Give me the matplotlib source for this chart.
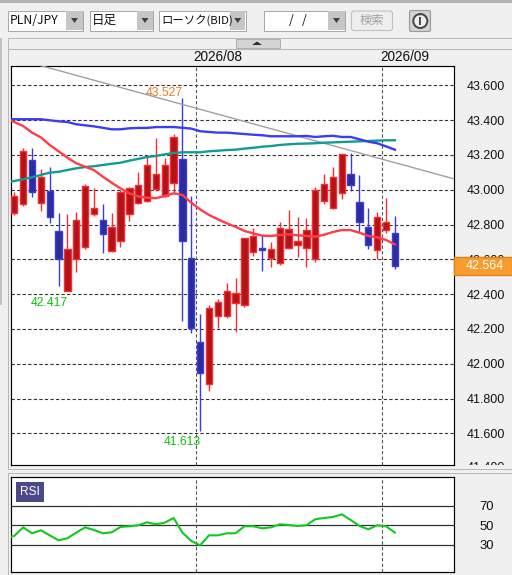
import matplotlib
matplotlib.use("Agg")
import matplotlib.pyplot as plt
from matplotlib.patches import Rectangle, FancyBboxPatch, Polygon, Circle

plt.rcParams['font.family'] = ['Liberation Sans', 'Noto Sans CJK JP', 'DejaVu Sans']

# ---------- data ----------
opens = [42.868,42.916,43.169,42.922,42.991,42.761,42.420,42.603,42.669,42.862,42.824,42.646,42.703,42.859,42.922,
         42.933,43.002,42.962,43.037,43.175,42.606,42.123,41.882,42.272,42.272,42.347,42.336,42.640,42.663,42.606,
         42.577,42.663,42.684,42.663,42.600,42.933,42.897,42.979,43.089,42.928,42.784,42.652,42.767,42.749]
highs = [42.989,43.238,43.238,43.119,43.129,42.864,42.860,42.872,43.033,43.008,42.918,42.864,42.998,43.017,43.102,
         43.199,43.295,43.182,43.318,43.527,42.964,42.286,42.337,42.370,42.464,42.493,42.722,42.778,42.740,42.699,
         42.813,42.883,42.841,42.837,43.014,43.090,43.129,43.205,43.209,43.083,42.893,42.872,42.952,42.849]
lows = [42.855,42.908,42.960,42.879,42.810,42.448,42.417,42.527,42.659,42.849,42.638,42.642,42.672,42.820,42.918,
        42.929,42.994,42.956,42.983,42.247,42.175,41.613,41.845,42.207,42.263,42.184,42.328,42.621,42.534,42.557,
        42.567,42.657,42.615,42.557,42.586,42.920,42.891,42.948,42.994,42.759,42.661,42.600,42.753,42.546]
closes = [42.964,43.224,42.985,43.071,42.841,42.600,42.657,42.824,43.020,42.893,42.744,42.784,42.985,43.008,43.025,
          43.140,43.089,43.140,43.301,42.703,42.203,41.945,42.318,42.353,42.416,42.405,42.721,42.732,42.652,42.657,
          42.778,42.772,42.703,42.767,42.997,43.031,43.071,43.203,43.025,42.813,42.680,42.841,42.813,42.564]

# moving averages begin one session before the first visible candle
ma_red = [43.406,43.389,43.366,43.328,43.301,43.257,43.221,43.184,43.152,43.132,43.113,43.075,43.040,43.008,42.979,
          42.962,42.954,42.951,42.964,42.979,42.970,42.925,42.887,42.855,42.830,42.807,42.787,42.763,42.749,42.736,
          42.734,42.740,42.744,42.738,42.734,42.730,42.741,42.757,42.768,42.768,42.753,42.734,42.726,42.711,42.686]
ma_blue = [43.406,43.405,43.405,43.405,43.405,43.399,43.393,43.389,43.376,43.370,43.364,43.356,43.347,43.347,43.353,
           43.355,43.355,43.360,43.360,43.360,43.356,43.351,43.336,43.332,43.328,43.328,43.324,43.320,43.316,43.313,
           43.307,43.307,43.307,43.307,43.309,43.303,43.307,43.310,43.303,43.303,43.290,43.276,43.267,43.249,43.230]
ma_teal = [43.041,43.050,43.060,43.071,43.085,43.098,43.103,43.113,43.123,43.130,43.135,43.142,43.149,43.155,43.167,
           43.177,43.188,43.194,43.203,43.211,43.215,43.215,43.215,43.221,43.224,43.228,43.230,43.236,43.241,43.247,
           43.251,43.257,43.261,43.264,43.265,43.267,43.270,43.272,43.274,43.276,43.278,43.280,43.282,43.284,43.284]
rsi = [37.3,39.1,47.9,41.8,44.9,39.7,34.6,36.7,42.5,47.9,45.2,41.8,42.8,48.3,49.0,50.0,53.1,51.0,52.7,57.5,42.5,33.9,
       29.5,39.7,39.7,41.8,41.8,49.0,49.0,46.9,47.9,51.0,50.3,49.3,50.0,56.2,57.5,58.5,61.3,55.5,49.3,45.9,50.0,49.0,42.5]

trend_x = [2.71, 49.63]
trend_y = [43.717, 43.063]
price_ticks = [43.6, 43.4, 43.2, 43.0, 42.8, 42.6, 42.4, 42.2, 42.0, 41.8, 41.6]
rsi_ticks = [70, 50, 30]
month_pos = [20.55, 41.6]
month_labels = ['2026/08', '2026/09']
last_price = 42.564
high_label = '43.527'
low_labels = ['42.417', '41.613']

# ---------- figure ----------
W, H = 512, 575
BG = '#f0f0f0'
fig = plt.figure(figsize=(W / 100, H / 100), dpi=100, facecolor=BG)

def axes_px(l, t, r, b, **kw):
    return fig.add_axes([l / W, 1 - b / H, (r - l) / W, (b - t) / H], **kw)

ui = axes_px(0, 0, W, H, zorder=0)
ui.set_xlim(0, W); ui.set_ylim(H, 0); ui.axis('off')

def rect(x0, y0, x1, y1, fc, ec='none', lw=0.72, z=1):
    ui.add_patch(Rectangle((x0, y0), x1 - x0, y1 - y0, fc=fc, ec=ec, lw=lw, zorder=z))

JP = ['Noto Sans CJK JP', 'DejaVu Sans']
rect(0, 0, W, 2.5, '#b4b4b4')

def combo(x0, x1, btn, label, fam=None, size=8.6, tx=None):
    rect(x0, 10.5, x1, 30.5, 'white', '#a8a8a8')
    rect(btn, 11, x1 - .5, 30, '#c6c6c6')
    c = (btn + x1) / 2
    ui.add_patch(Polygon([[c - 3.5, 18], [c + 3.5, 18], [c, 23]], fc='#404040', zorder=3))
    ui.text(x0 + 2.5 if tx is None else tx, 20.5, label, fontsize=size, va='center', ha='left' if tx is None else 'center',
            color='#111111', family=fam or JP)

combo(7.5, 83, 66, 'PLN/JPY', size=8.8)
combo(89.5, 153, 137, '日足', size=9)
combo(158.5, 245.5, 230, 'ローソク(BID)', size=8.2)
combo(263.5, 345, 328, '/   /', tx=298, size=8.8)
ui.add_patch(FancyBboxPatch((351.5, 11), 41, 19.5, boxstyle='round,pad=0,rounding_size=2.5', fc='#eeeeee', ec='#c0c0c0', lw=.8, zorder=2))
ui.text(372, 20.5, '検索', fontsize=8.8, color='#a0a0a0', ha='center', va='center', family=JP, zorder=3)
ui.add_patch(FancyBboxPatch((409.5, 10.5), 21, 21, boxstyle='round,pad=0,rounding_size=1.5', fc='#d2d2d2', ec='#999999', lw=.8, zorder=2))
ui.add_patch(Circle((420.3, 21), 7, fc='#eeeeee', ec='#444444', lw=1.4, zorder=3))
ui.text(420.3, 21, 'i', fontsize=10, fontweight='bold', color='#444444', ha='center', va='center', zorder=4)

# panel chrome
rect(7.5, 37.5, W, 468.5, BG, '#b8b8b8')
ui.plot([7.5, W], [48.5, 48.5], color='#b8b8b8', lw=.8, zorder=2)
rect(235.5, 38.5, 279.5, 48, '#d4d4d4', '#b0b0b0', z=3)
ui.add_patch(Polygon([[252, 45], [262, 45], [257, 41.5]], fc='#303030', zorder=4))
rect(0, 38, 1.5, 305, '#c4c4c4')
rect(7.5, 472.5, W, H, BG, '#b8b8b8')

# ---------- main chart ----------
PX0, PXSTEP = 14.3, 8.85
def xlim_for(l, r):
    return (l - PX0) / PXSTEP, (r - PX0) / PXSTEP
def price_at(y):
    return 43.6 - (y - 85.3) / 174

L, R, T, B = 11.3, 453.5, 65.5, 464.5
ax = axes_px(L, T, R, B, zorder=2, facecolor='white')
ax.set_xlim(*xlim_for(L, R))
ax.set_ylim(price_at(B), price_at(T))
for s in ax.spines.values():
    s.set_linewidth(.85); s.set_color('black')

idx = list(range(len(closes)))
ma_x = list(range(-1, len(closes)))
DASH = (0, (3, 2))
ax.hlines(price_ticks, *ax.get_xlim(), color='#333333', lw=.8, linestyles=DASH, zorder=1)
ax.vlines(month_pos, *ax.get_ylim(), color='#555555', lw=.8, linestyles=DASH, zorder=1)

UP_E, UP_F = '#ff2a2e', '#b01418'
DN_E, DN_F = '#3c3cdc', '#2c2c9c'
for i, o, h, l, c in zip(idx, opens, highs, lows, closes):
    up = c >= o
    ax.vlines(i, l, h, color=UP_E if up else DN_E, lw=1.0, zorder=2)
    ax.bar(i, abs(c - o), bottom=min(o, c), width=0.72, color=UP_F if up else DN_F,
           edgecolor=UP_E if up else DN_E, linewidth=1.0, zorder=3)

ax.plot(trend_x, trend_y, color='#a0a0a0', lw=1.0, zorder=4)
ax.plot(ma_x, ma_teal, color='#0f9c92', lw=1.7, zorder=5)
ax.plot(ma_x, ma_blue, color='#3c3cf0', lw=1.7, zorder=5)
ax.plot(ma_x, ma_red, color='#ff3c48', lw=1.7, zorder=5)

def note(i, p, s, col, dy):
    ax.annotate(s, xy=(i, p), xytext=(-18 * .72, dy * .72), textcoords='offset points', color=col,
                fontsize=8.8, ha='center', va='center', zorder=6)
note(19, highs[19], high_label, '#f07a20', 5)
note(6, lows[6], low_labels[0], '#10c010', -12)
note(21, lows[21], low_labels[1], '#10c010', -10.5)

ax.set_xticks([])
for m, lab in zip(month_pos, month_labels):
    ax.annotate(lab, xy=(m, 1), xycoords=ax.get_xaxis_transform(), xytext=(-2.5 * .72, 1.2),
                textcoords='offset points', ha='left', va='bottom', fontsize=9.8, color='#111111',
                annotation_clip=False)
ax.yaxis.tick_right()
ax.set_yticks(price_ticks)
ax.set_yticklabels([f'{p:.3f}' for p in price_ticks], fontsize=9, color='#111111')
ax.tick_params(axis='y', length=0, pad=9.7)

# tick below the plotted range: only its top shows above the separator
clip = Rectangle((454, 440), 58, 25, transform=ui.transData)
t = ax.text(1.0 + 13.5 / (R - L), 41.4, '41.400', transform=ax.get_yaxis_transform(), fontsize=9, color='#111111',
            va='center', ha='left', clip_on=True)
t.set_clip_path(clip)

# last price tag
box_h = 18 / 174
ax.add_patch(Rectangle((1.0, last_price - box_h / 2), (W - R) / (R - L), box_h, transform=ax.get_yaxis_transform(),
                       fc='#f99c2e', ec='#e2801a', lw=1, clip_on=False, zorder=8))
ax.text(1.0 + 31.5 / (R - L), last_price, f'{last_price:.3f}', transform=ax.get_yaxis_transform(), color='white',
        fontsize=9, ha='center', va='center', clip_on=False, zorder=9)

# ---------- RSI ----------
RT, RB = 477.3, 572.3
ax2 = axes_px(L, RT, R, RB, zorder=2, facecolor='white')
ax2.set_xlim(*xlim_for(L, R))
ax2.set_ylim(50 - (RB - 525.3) / .975, 50 + (525.3 - RT) / .975)
for s in ax2.spines.values():
    s.set_linewidth(.85); s.set_color('black')
ax2.hlines(rsi_ticks, *ax2.get_xlim(), color='#333333', lw=.9, zorder=1)
ax2.vlines(month_pos, *ax2.get_ylim(), color='#555555', lw=.8, linestyles=DASH, zorder=1)
ax2.plot(ma_x, rsi, color='#10c820', lw=1.5, zorder=3)
ax2.set_xticks([])
ax2.yaxis.tick_right()
ax2.set_yticks(rsi_ticks)
ax2.set_yticklabels([str(v) for v in rsi_ticks], fontsize=9.4, color='#111111')
ax2.tick_params(axis='y', length=0, pad=18.4)
fig.add_artist(Rectangle((16 / W, 1 - 502 / H), 28 / W, 20 / H, transform=fig.transFigure, fc='#4a4a88', ec='none', zorder=6))
fig.text(30 / W, 1 - 492.3 / H, 'RSI', ha='center', va='center', color='white', fontsize=8.6, zorder=7)

fig.savefig('out.png', dpi=100, facecolor=BG)
